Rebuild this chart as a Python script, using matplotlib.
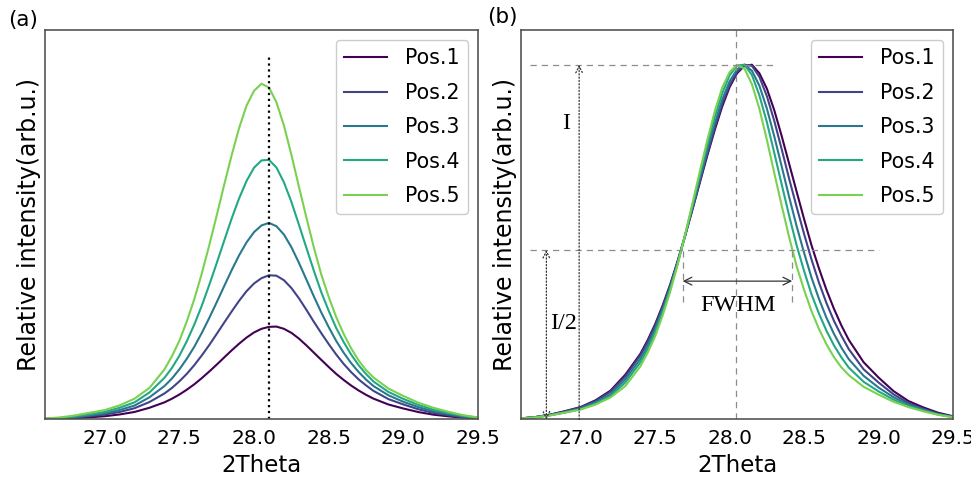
import numpy as np
import matplotlib.pyplot as plt

# 2Theta grid (denser around the peak)
two_theta = [26.6, 26.7, 26.8, 26.9, 27.0, 27.1, 27.2, 27.3, 27.4,
             27.45, 27.50, 27.55, 27.60, 27.65, 27.70, 27.75, 27.80, 27.85,
             27.90, 27.95, 28.00, 28.05, 28.10, 28.15, 28.20, 28.25, 28.30,
             28.35, 28.40, 28.45, 28.50, 28.55, 28.60, 28.65, 28.70, 28.75,
             28.8, 28.9, 29.0, 29.1, 29.2, 29.3, 29.4, 29.5]

# normalised profiles (panel b)
pos1 = [.003, .007, .014, .024, .035, .054, .081, .126, .184,
        .223, .268, .320, .378, .444, .515, .589, .666, .742,
        .814, .880, .935, .974, .995, .998, .974, .931, .870,
        .797, .719, .641, .564, .490, .425, .365, .312, .265,
        .224, .161, .118, .080, .052, .034, .019, .009]
pos2 = [.003, .007, .014, .023, .034, .052, .078, .121, .180,
        .218, .264, .316, .376, .443, .515, .592, .670, .747,
        .821, .888, .941, .978, .998, .995, .964, .910, .840,
        .760, .677, .598, .522, .450, .385, .328, .278, .236,
        .198, .141, .104, .071, .046, .030, .016, .008]
pos3 = [.003, .007, .013, .021, .031, .048, .071, .113, .170,
        .208, .255, .309, .370, .440, .516, .596, .678, .759,
        .835, .901, .953, .987, 1.0, .983, .941, .877, .798,
        .713, .627, .545, .470, .400, .340, .287, .242, .203,
        .170, .123, .090, .063, .042, .028, .015, .007]
pos4 = [.003, .006, .012, .020, .029, .045, .066, .104, .160,
        .198, .245, .301, .365, .437, .517, .601, .687, .772,
        .850, .917, .968, .996, .998, .969, .912, .837, .750,
        .661, .573, .490, .418, .352, .298, .250, .209, .175,
        .146, .106, .079, .056, .038, .025, .014, .007]
pos5 = [.003, .006, .012, .020, .028, .042, .062, .094, .149,
        .188, .234, .292, .358, .434, .518, .607, .698, .786,
        .867, .934, .978, .999, .988, .944, .875, .788, .694,
        .602, .513, .432, .365, .305, .255, .212, .176, .147,
        .125, .092, .070, .050, .035, .023, .013, .006]

# peak heights in panel (a), relative to Pos.5
peak_int = [0.277, 0.430, 0.585, 0.774, 1.0]
labels = ['Pos.1', 'Pos.2', 'Pos.3', 'Pos.4', 'Pos.5']
profiles = [pos1, pos2, pos3, pos4, pos5]

colors = ['#440154', '#414487', '#2a788e', '#22a884', '#7ad151']

fig = plt.figure(figsize=(9.71, 4.82), dpi=100)
ax1 = fig.add_axes([0.0463, 0.1297, 0.446, 0.8081])
ax2 = fig.add_axes([0.5366, 0.1297, 0.4449, 0.8081])

for ax in (ax1, ax2):
    ax.set_xlim(26.6, 29.5)
    ax.set_xticks([27.0, 27.5, 28.0, 28.5, 29.0, 29.5])
    ax.set_xticklabels(['27.0', '27.5', '28.0', '28.5', '29.0', '29.5'])
    ax.set_yticks([])
    ax.tick_params(length=0, labelsize=14.5, pad=7)
    for s in ax.spines.values():
        s.set_color('#555555')
        s.set_linewidth(1.2)
    ax.set_xlabel('2Theta', fontsize=16.5, labelpad=4)
    ax.set_ylabel('Relative intensity(arb.u.)', fontsize=17, labelpad=3)

# (a) raw intensities
for prof, pk, c, lab in zip(profiles, peak_int, colors, labels):
    ax1.plot(two_theta, np.array(prof) * pk, color=c, lw=1.5, label=lab)
ax1.plot([28.10, 28.10], [0, 1.085], color='k', ls=':', lw=1.6)
ax1.set_ylim(0, 1.159)

# (b) normalised
for prof, c, lab in zip(profiles, colors, labels):
    p = np.array(prof)
    ax2.plot(two_theta, p / p.max(), color=c, lw=1.5, label=lab)
ax2.set_ylim(0, 1.098)

dash = dict(color='#8c8c8c', lw=0.9, ls=(0, (5, 4)))
ax2.plot([26.66, 28.29], [1.0, 1.0], **dash)
ax2.plot([26.66, 29.0], [0.478, 0.478], **dash)
ax2.axvline(28.04, **dash)
ax2.plot([27.685, 27.685], [0.332, 0.478], **dash)
ax2.plot([28.42, 28.42], [0.332, 0.478], **dash)

ax2.annotate('', xy=(26.99, 1.0), xytext=(26.99, 0.0),
             arrowprops=dict(arrowstyle='->', ls=':', lw=0.9, color='#333333',
                             shrinkA=0, shrinkB=0, mutation_scale=12))
ax2.annotate('', xy=(26.77, 0.478), xytext=(26.77, 0.0),
             arrowprops=dict(arrowstyle='<->', ls=':', lw=0.9, color='#333333',
                             shrinkA=0, shrinkB=0, mutation_scale=12))
ax2.annotate('', xy=(27.685, 0.39), xytext=(28.42, 0.39),
             arrowprops=dict(arrowstyle='<->', lw=0.9, color='#333333',
                             shrinkA=0, shrinkB=0, mutation_scale=14))

serif = dict(family='Liberation Serif', fontsize=17.5, ha='center', va='center')
ax2.text(26.90, 0.835, 'I', **serif)
ax2.text(26.885, 0.271, 'I/2', **serif)
ax2.text(28.058, 0.322, 'FWHM', **serif)

for ax in (ax1, ax2):
    ax.legend(loc='upper right', fontsize=14.8, handlelength=2.1,
              handletextpad=0.85, labelspacing=0.7, borderaxespad=0.5,
              edgecolor='#cccccc', framealpha=1)

fig.text(8 / 971, 1 - 20 / 482, '(a)', fontsize=15.5, va='center', ha='left')
fig.text(487 / 971, 1 - 17.5 / 482, '(b)', fontsize=15.5, va='center', ha='left')

fig.savefig('out.png', dpi=100)
